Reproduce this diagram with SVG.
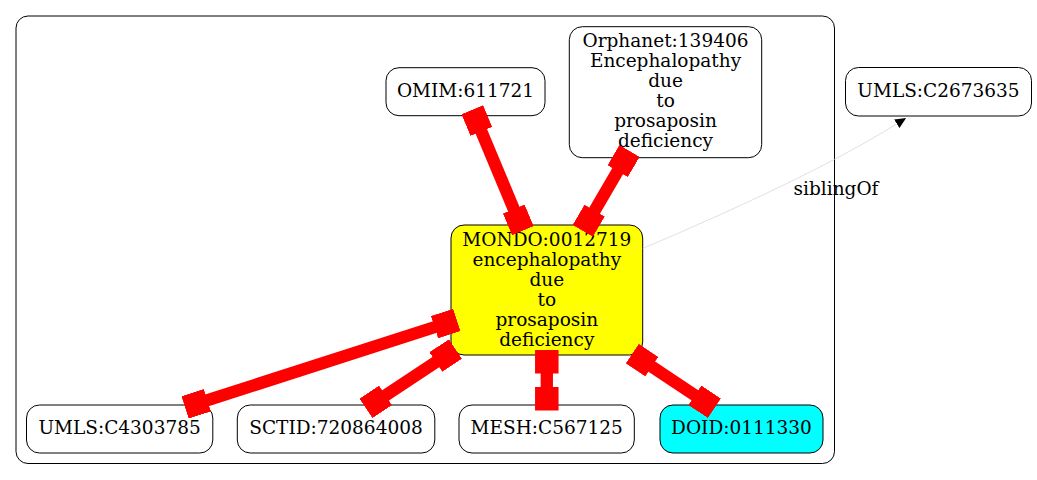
<svg xmlns="http://www.w3.org/2000/svg" width="1037" height="480" viewBox="0 0 1037 480">
<style>
text{font-family:"DejaVu Serif","Liberation Serif",serif;font-size:18.5px;fill:#000;text-anchor:middle}
.node{fill:#fff;stroke:#000;stroke-width:1}
.edge{stroke:#ff0000;stroke-width:12.3;fill:none;marker-start:url(#box);marker-end:url(#box)}
.sib{stroke:#d3d3d3;stroke-width:0.7;fill:none;marker-end:url(#arrow)}
</style>
<defs>
<marker id="box" markerUnits="userSpaceOnUse" viewBox="0 0 23.5 23.5" markerWidth="23.5" markerHeight="23.5" refX="18.5" refY="11.75" orient="auto-start-reverse">
<rect x="0" y="0" width="23.5" height="23.5" fill="#ff0000"/>
</marker>
<marker id="arrow" markerUnits="userSpaceOnUse" viewBox="0 0 11 10" markerWidth="11" markerHeight="10" refX="0" refY="5" orient="auto">
<polygon points="0,0 11,5 0,10" fill="#000"/>
</marker>
</defs>
<rect width="1037" height="480" fill="#fff"/>
<g id="cluster">
<rect x="16" y="16" width="818.5" height="447.5" rx="12" ry="12" fill="none" stroke="#000" stroke-width="1"/>
</g>
<g id="n-omim">
<rect class="node" x="386" y="67.7" width="159" height="48" rx="13" ry="13"/>
<text x="465.5" y="97">OMIM:611721</text>
</g>
<g id="n-orphanet">
<rect class="node" x="569.3" y="26.7" width="192.4" height="131" rx="13" ry="13"/>
<text x="665.5" y="47.3">Orphanet:139406</text>
<text x="665.5" y="67.3">Encephalopathy</text>
<text x="665.5" y="87.3">due</text>
<text x="665.5" y="107.3">to</text>
<text x="665.5" y="127.3">prosaposin</text>
<text x="665.5" y="147.3">deficiency</text>
</g>
<g id="n-umls2673635">
<rect class="node" x="845.5" y="67.5" width="186" height="48.5" rx="13" ry="13"/>
<text x="938.5" y="97">UMLS:C2673635</text>
</g>
<g id="n-mondo">
<rect x="451" y="225" width="191.7" height="130" rx="13" ry="13" fill="#ffff00" stroke="#000" stroke-width="1"/>
<text x="546.8" y="245.7">MONDO:0012719</text>
<text x="546.8" y="265.7">encephalopathy</text>
<text x="546.8" y="285.7">due</text>
<text x="546.8" y="305.7">to</text>
<text x="546.8" y="325.7">prosaposin</text>
<text x="546.8" y="345.7">deficiency</text>
</g>
<g id="n-umls4303785">
<rect class="node" x="26.5" y="405" width="186.3" height="48" rx="13" ry="13"/>
<text x="119.6" y="433.5">UMLS:C4303785</text>
</g>
<g id="n-sctid">
<rect class="node" x="237.3" y="405" width="197.5" height="48" rx="13" ry="13"/>
<text x="336" y="433.5">SCTID:720864008</text>
</g>
<g id="n-mesh">
<rect class="node" x="459" y="405" width="175.3" height="48" rx="13" ry="13"/>
<text x="546.7" y="433.5">MESH:C567125</text>
</g>
<g id="n-doid">
<rect x="660" y="405" width="163" height="48" rx="13" ry="13" fill="#00ffff" stroke="#000" stroke-width="1"/>
<text x="741.5" y="433.5">DOID:0111330</text>
</g>
<g id="connectors">
<line class="edge" x1="474.2" y1="114.3" x2="520.9" y2="226.1"/>
<line class="edge" x1="627" y1="155.2" x2="585.3" y2="226.6"/>
<line class="edge" x1="452.1" y1="321.5" x2="189.8" y2="405.9"/>
<line class="edge" x1="451.3" y1="351.8" x2="370.1" y2="405.6"/>
<line class="edge" x1="546.8" y1="355" x2="546.8" y2="405.5"/>
<line class="edge" x1="636.4" y1="356.4" x2="710.2" y2="405.5"/>
<path class="sib" d="M642.7,248.5 C705,222 820,172 896.8,123.8"/>
<text x="836" y="195">siblingOf</text>
</g>
</svg>
